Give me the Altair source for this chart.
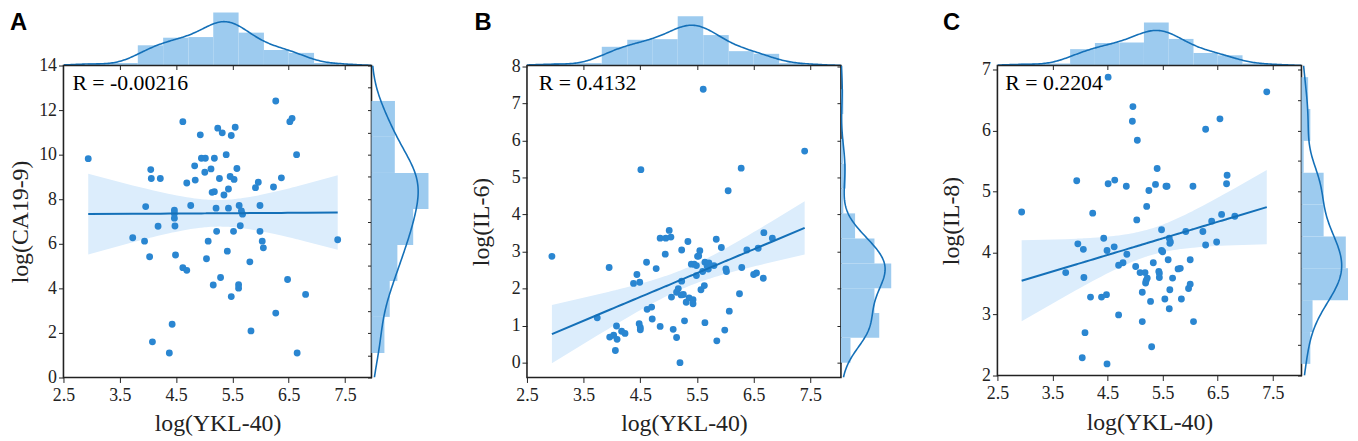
import altair as alt
import pandas as pd

# ---------------- data ----------------
A_X = [2.94, 3.73, 3.94, 3.96, 4.03, 4.05, 4.06, 4.08, 4.22, 4.18,
       4.38, 4.43, 4.47, 4.47, 4.47, 4.48, 4.49, 4.62, 4.62, 4.69,
       4.69, 4.76, 4.83, 4.84, 4.93, 4.95, 5.02, 5.01, 5.04, 5.07,
       5.12, 5.14, 5.18, 5.18, 5.16, 5.21, 5.22, 5.24, 5.27, 5.29,
       5.32, 5.35, 5.39, 5.41, 5.43, 5.43, 5.46, 5.48, 5.48, 5.53,
       5.52, 5.55, 5.58, 5.61, 5.61, 5.62, 5.64, 5.66, 5.68, 5.81,
       5.83, 5.91, 5.96, 5.99, 5.99, 6.03, 6.05, 6.23, 6.27, 6.27,
       6.37, 6.48, 6.52, 6.56, 6.64, 6.65, 6.80, 7.37]
A_Y = [9.82, 6.27, 6.12, 7.67, 5.42, 9.33, 8.93, 1.60, 8.93, 6.79,
       1.10, 2.39, 7.51, 7.36, 7.15, 6.80, 5.50, 11.48, 4.93, 4.81,
       8.73, 7.72, 9.50, 8.86, 10.89, 9.84, 9.84, 9.21, 5.33, 6.12,
       9.36, 8.31, 8.34, 9.84, 4.15, 7.60, 6.56, 11.19, 8.93, 4.49,
       10.98, 8.19, 10.00, 5.67, 8.46, 7.60, 9.02, 3.63, 10.86, 8.89,
       6.56, 11.23, 9.38, 4.16, 4.01, 7.72, 6.81, 7.48, 7.33, 5.19,
       2.09, 8.52, 8.76, 7.72, 6.56, 6.12, 5.82, 8.55, 2.89, 12.41,
       8.96, 4.40, 11.48, 11.63, 10.00, 1.10, 3.73, 6.18]

B_X = [2.94, 3.74, 3.95, 3.96, 4.03, 4.06, 4.08, 4.09, 4.17, 4.23,
       4.38, 4.44, 4.49, 4.48, 4.50, 4.50, 4.51, 4.61, 4.62, 4.70,
       4.71, 4.78, 4.85, 4.85, 4.95, 4.94, 5.01, 5.04, 5.05, 5.08,
       5.14, 5.14, 5.17, 5.20, 5.22, 5.23, 5.23, 5.26, 5.28, 5.31,
       5.34, 5.36, 5.40, 5.43, 5.43, 5.45, 5.49, 5.49, 5.51, 5.55,
       5.53, 5.57, 5.61, 5.60, 5.63, 5.64, 5.64, 5.68, 5.70, 5.71,
       5.80, 5.84, 5.85, 5.93, 5.99, 6.01, 6.02, 6.05, 6.07, 6.25,
       6.28, 6.29, 6.38, 6.50, 6.55, 6.58, 6.67, 6.68, 6.83, 7.40]
B_Y = [2.87, 1.21, 2.57, 0.69, 0.74, 0.33, 0.99, 0.63, 0.85, 0.79,
       2.14, 2.38, 2.17, 1.05, 0.95, 0.89, 5.21, 2.71, 1.44, 1.50,
       1.18, 2.54, 0.98, 3.36, 3.36, 2.93, 3.57, 3.39, 1.77, 0.90,
       0.68, 1.90, 2.00, 0.00, 1.83, 2.20, 3.04, 1.84, 1.13, 1.63,
       3.27, 1.75, 2.66, 1.70, 1.59, 2.66, 2.35, 2.62, 2.87, 3.02,
       2.88, 1.97, 7.38, 2.46, 2.08, 1.08, 2.71, 2.60, 2.53, 2.69,
       2.62, 3.33, 0.59, 3.11, 0.88, 2.53, 2.46, 4.64, 1.39, 1.86,
       5.25, 2.57, 3.04, 2.38, 2.42, 3.09, 2.28, 3.51, 3.36, 5.71]

C_X = [2.94, 3.74, 3.96, 3.94, 4.06, 4.07, 4.09, 4.04, 4.19, 4.23,
       4.39, 4.43, 4.48, 4.49, 4.51, 4.49, 4.51, 4.62, 4.63, 4.70,
       4.70, 4.78, 4.84, 4.85, 4.95, 4.96, 5.03, 5.04, 5.01, 5.09,
       5.13, 5.13, 5.18, 5.19, 5.20, 5.22, 5.21, 5.25, 5.28, 5.30,
       5.33, 5.37, 5.40, 5.43, 5.44, 5.44, 5.48, 5.48, 5.50, 5.54,
       5.56, 5.58, 5.60, 5.62, 5.63, 5.63, 5.64, 5.62, 5.68, 5.78,
       5.82, 5.84, 5.92, 5.97, 6.00, 6.00, 6.05, 6.06, 6.23, 6.28,
       6.28, 6.39, 6.48, 6.54, 6.57, 6.66, 6.67, 6.81, 7.39]
C_Y = [4.67, 3.68, 4.15, 5.18, 4.06, 3.60, 2.70, 2.29, 3.28, 4.65,
       3.28, 4.24, 3.32, 4.04, 5.13, 2.19, 6.87, 4.10, 5.19, 2.99,
       3.80, 3.84, 5.09, 3.98, 6.15, 6.39, 4.54, 5.84, 3.78, 3.68,
       3.36, 2.88, 3.68, 3.51, 3.55, 3.59, 4.76, 5.02, 3.21, 2.47,
       3.84, 5.12, 5.38, 3.70, 3.60, 3.67, 4.38, 4.04, 4.02, 3.25,
       5.09, 5.09, 3.89, 4.24, 3.40, 4.16, 4.18, 3.09, 3.59, 3.74,
       3.75, 3.25, 4.35, 3.42, 3.49, 3.89, 5.09, 2.88, 4.35, 6.02,
       4.13, 4.52, 4.18, 6.19, 4.63, 5.13, 5.27, 4.60, 6.63]

# marginal histograms (bin edges and counts)
TOP_EDGES = [2.93, 3.38, 3.82, 4.27, 4.72, 5.16, 5.61, 6.06, 6.50, 6.95, 7.40]
TOP_COUNTS = [1, 1, 8, 11, 11, 21, 13, 6, 5, 1]
A_R_EDGES = [1.10, 2.72, 4.33, 5.95, 7.56, 9.18, 10.80, 12.41]
A_R_COUNTS = [5, 7, 10, 16, 22, 9, 9]
B_R_EDGES = [0.0, 0.67, 1.34, 2.01, 2.68, 3.35, 4.03, 4.70, 5.37, 6.04, 6.71, 7.38]
B_R_COUNTS = [4, 16, 14, 21, 14, 6, 1, 2, 1, 0, 1]
C_R_EDGES = [2.19, 2.71, 3.23, 3.75, 4.27, 4.79, 5.31, 5.83, 6.35, 6.87]
C_R_COUNTS = [4, 5, 21, 20, 10, 10, 1, 4, 3]

X_TICKS = [2.5, 3.5, 4.5, 5.5, 6.5, 7.5]
X_MINOR = [3.5, 4.5, 5.5, 6.5, 7.5]
A_YTICKS = [0, 2, 4, 6, 8, 10, 12, 14]
B_YTICKS = [0, 1, 2, 3, 4, 5, 6, 7, 8]
C_YTICKS = [2, 3, 4, 5, 6, 7]
A_RTICKS = list(range(0, 15))
B_RTICKS = list(range(0, 9))
C_RTICKS = [2, 2.5, 3, 3.5, 4, 4.5, 5, 5.5, 6, 6.5, 7]

R_LABELS = ["R = -0.00216", "R = 0.4132", "R = 0.2204"]
LETTERS = ["A", "B", "C"]
Y_TITLES = ["log(CA19-9)", "log(IL-6)", "log(IL-8)"]
X_TITLE = "log(YKL-40)"

# ---------------- style ----------------
PT = "#2a86d1"
LINE = "#1470b8"
HIST = "#9dcbef"
BAND = "#dcedfc"
INK = "#222222"
SERIF = "Liberation Serif"
SANS = "Liberation Sans"
TOPH = 55


def hist_df(edges, counts):
    return pd.DataFrame({"lo_edge": edges[:-1], "hi_edge": edges[1:], "n_in_bin": counts})


def panel(xs, ys, r_edges, r_counts, letter, rlabel, ytitle, yticks, rticks,
          xdom, ydom, W, H, RW, top_max, right_max, title_pad, letter_dx, r_dx):
    df = pd.DataFrame({"x": xs, "y": ys})
    xsc = alt.Scale(domain=xdom, nice=False, zero=False)
    ysc = alt.Scale(domain=ydom, nice=False, zero=False)

    # ----- top marginal -----
    top_ax = alt.Axis(orient="bottom", labels=False, ticks=True, domain=False, grid=False,
                      title=None, values=X_MINOR, tickSize=4, tickColor=INK)
    tdens = alt.Scale(domain=[0, top_max], nice=False, zero=True)
    top_bars = alt.Chart(hist_df(TOP_EDGES, TOP_COUNTS)).transform_joinaggregate(
        total="sum(n_in_bin)"
    ).transform_calculate(
        dens="datum.n_in_bin / (datum.total * (datum.hi_edge - datum.lo_edge))"
    ).mark_rect(color=HIST).encode(
        x=alt.X("lo_edge:Q", scale=xsc, axis=top_ax),
        x2="hi_edge:Q",
        y=alt.Y("dens:Q", scale=tdens, axis=None),
        y2=alt.datum(0),
    )
    top_kde = alt.Chart(df).transform_density(
        "x", as_=["v", "dens"], extent=list(xdom), steps=240
    ).mark_line(color=LINE, strokeWidth=1.6, clip=True).encode(
        x=alt.X("v:Q", scale=xsc, axis=top_ax),
        y=alt.Y("dens:Q", scale=tdens, axis=None),
    )
    letter_txt = alt.Chart(pd.DataFrame({"t": [letter]})).mark_text(
        font=SANS, fontWeight="bold", fontSize=24, align="left", baseline="alphabetic", color="black"
    ).encode(x=alt.value(letter_dx), y=alt.value(19), text="t:N")
    top = alt.layer(top_bars, top_kde, letter_txt).properties(width=W, height=TOPH)

    # ----- scatter with regression fit -----
    xax = alt.Axis(title=X_TITLE, values=X_TICKS, format=".1f", labelFlush=False, labelOverlap=False,
                   tickSize=5, labelPadding=4, titlePadding=8, grid=False, domain=False)
    yax = alt.Axis(title=ytitle, values=yticks, format="d", labelFlush=False, labelOverlap=False,
                   tickSize=5, labelPadding=2, titlePadding=title_pad, grid=False, domain=False)

    stats = alt.Chart(df).transform_joinaggregate(
        mx="mean(x)", my="mean(y)", n="count()"
    ).transform_calculate(
        dx="datum.x - datum.mx"
    ).transform_calculate(
        dy="datum.y - datum.my"
    ).transform_calculate(
        sxy="datum.dx * datum.dy"
    ).transform_calculate(
        sxx="datum.dx * datum.dx"
    ).transform_joinaggregate(
        Sxy="sum(sxy)", Sxx="sum(sxx)"
    ).transform_calculate(
        yhat="datum.my + datum.Sxy / datum.Sxx * datum.dx"
    ).transform_calculate(
        r2="pow(datum.y - datum.yhat, 2)"
    ).transform_joinaggregate(
        SSE="sum(r2)"
    ).transform_calculate(
        se="sqrt(datum.SSE / (datum.n - 2)) * sqrt(1 / datum.n + datum.sxx / datum.Sxx)"
    ).transform_calculate(
        lo="datum.yhat - 1.99 * datum.se"
    ).transform_calculate(
        hi="datum.yhat + 1.99 * datum.se"
    )
    band = stats.mark_area(color=BAND, opacity=1).encode(
        x=alt.X("x:Q", scale=xsc, axis=xax),
        y=alt.Y("lo:Q", scale=ysc, axis=yax),
        y2="hi:Q",
    )
    fit = stats.mark_line(color=LINE, strokeWidth=2).encode(
        x=alt.X("x:Q", scale=xsc, axis=xax),
        y=alt.Y("yhat:Q", scale=ysc, axis=yax),
    )
    pts = alt.Chart(df).mark_circle(size=48, color=PT, opacity=1).encode(
        x=alt.X("x:Q", scale=xsc, axis=xax),
        y=alt.Y("y:Q", scale=ysc, axis=yax),
    )
    rtxt = alt.Chart(pd.DataFrame({"t": [rlabel]})).mark_text(
        font=SERIF, fontSize=22, align="left", baseline="alphabetic", color="black"
    ).encode(x=alt.value(r_dx), y=alt.value(25), text="t:N")
    scatter = alt.layer(band, pts, fit, rtxt).properties(
        width=W, height=H, view=alt.ViewBackground(stroke=INK, strokeWidth=1.6)
    )

    # ----- right marginal -----
    r_ax = alt.Axis(orient="left", labels=False, ticks=True, domain=False, grid=False,
                    title=None, values=rticks, tickSize=4, tickColor=INK)
    rdens = alt.Scale(domain=[0, right_max], nice=False, zero=True)
    r_bars = alt.Chart(hist_df(r_edges, r_counts)).transform_joinaggregate(
        total="sum(n_in_bin)"
    ).transform_calculate(
        dens="datum.n_in_bin / (datum.total * (datum.hi_edge - datum.lo_edge))"
    ).mark_rect(color=HIST).encode(
        y=alt.Y("lo_edge:Q", scale=ysc, axis=r_ax),
        y2="hi_edge:Q",
        x=alt.X("dens:Q", scale=rdens, axis=None),
        x2=alt.datum(0),
    )
    r_kde = alt.Chart(df).transform_density(
        "y", as_=["v", "dens"], extent=list(ydom), steps=240
    ).mark_line(color=LINE, strokeWidth=1.6, clip=True).encode(
        x=alt.X("dens:Q", scale=rdens, axis=None),
        y=alt.Y("v:Q", scale=ysc, axis=r_ax),
        order="v:Q",
    )
    right = alt.layer(r_bars, r_kde).properties(width=RW, height=H)

    row = alt.hconcat(scatter, right, spacing=0, bounds="flush")
    return alt.vconcat(top, row, spacing=0, bounds="flush")


colA = panel(A_X, A_Y, A_R_EDGES, A_R_COUNTS, LETTERS[0], R_LABELS[0], Y_TITLES[0],
             A_YTICKS, A_RTICKS, (2.5, 7.97), (0, 14), 311, 315, 60,
             0.6135, 0.1815, 6, -54, 9)
colB = panel(B_X, B_Y, B_R_EDGES, B_R_COUNTS, LETTERS[1], R_LABELS[1], Y_TITLES[1],
             B_YTICKS, B_RTICKS, (2.5, 8.04), (-0.4, 8.02), 317, 315, 51,
             0.6625, 0.3935, 18, -53, 12)
colC = panel(C_X, C_Y, C_R_EDGES, C_R_COUNTS, LETTERS[2], R_LABELS[2], Y_TITLES[2],
             C_YTICKS, C_RTICKS, (2.5, 8.02), (2, 7.06), 307, 313, 48,
             0.758, 0.5288, 18, -55, 8)

chart = alt.hconcat(
    colA,
    alt.hconcat(colB, colC, spacing=47),
    spacing=37,
).properties(
    padding=0
).configure_view(
    stroke="transparent"
).configure_axis(
    labelFont=SERIF, labelFontSize=18, labelColor=INK,
    titleFont=SERIF, titleFontSize=24, titleFontWeight="normal", titleColor=INK,
    tickColor=INK,
)

chart.save("out.html", embed_options={"renderer": "svg", "actions": False})
